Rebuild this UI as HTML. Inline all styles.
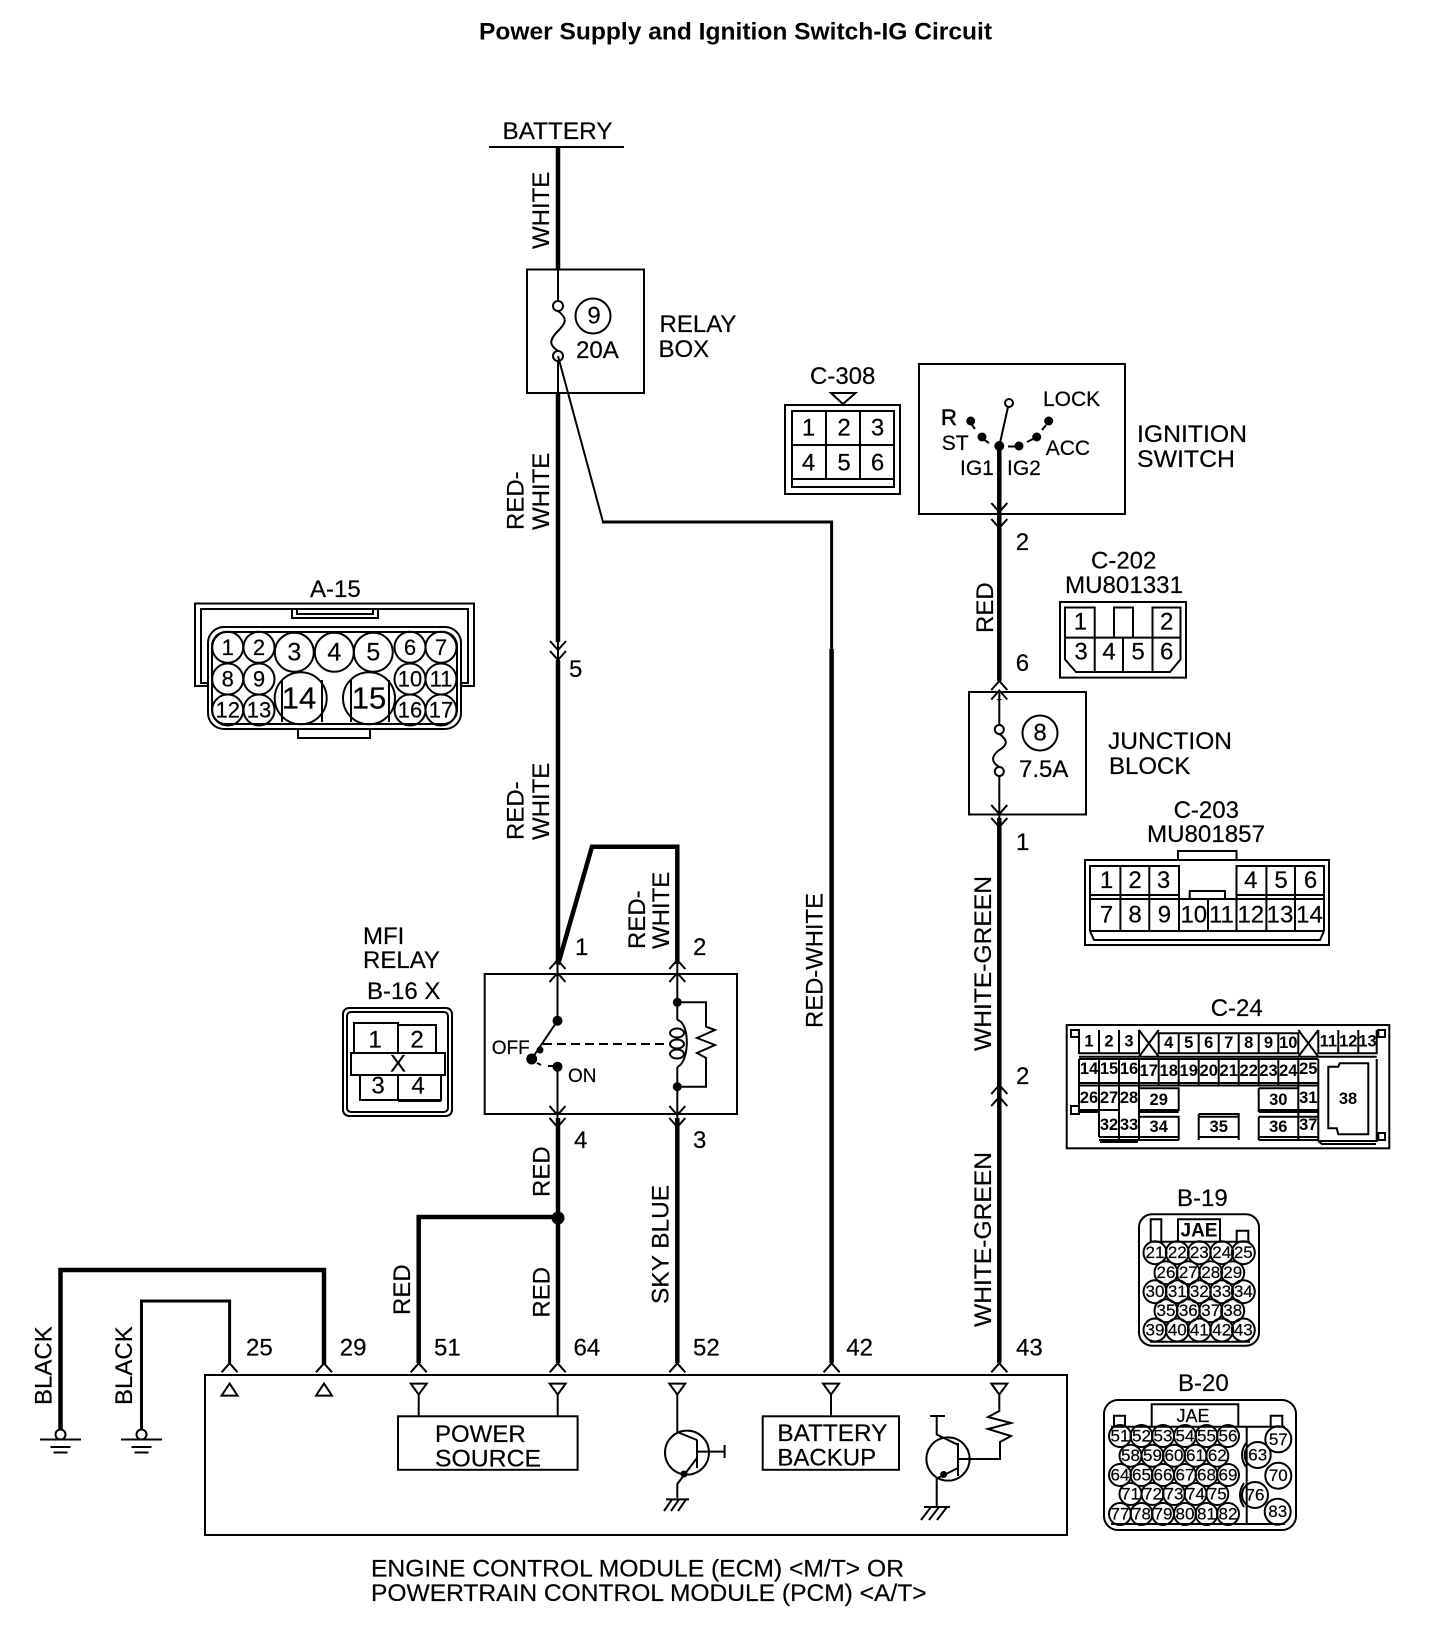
<!DOCTYPE html>
<html><head><meta charset="utf-8"><title>Power Supply and Ignition Switch-IG Circuit</title>
<style>
html,body{margin:0;padding:0;background:#fff}
svg{display:block}
text{font-family:"Liberation Sans",sans-serif;font-size:24px;fill:#000;stroke:#000;stroke-width:.2}
.c{text-anchor:middle;dominant-baseline:central}
.s{font-size:22px}.m{font-size:25px}.l{font-size:31px}
.b{font-weight:bold;font-size:16.5px;stroke:none}
.k{font-size:17px}.k2{font-size:18px}
.sw{font-size:21px}
.t{font-weight:bold;font-size:24.5px;stroke:none}
g,path,rect,circle,ellipse,line,polyline,polygon{fill:none;stroke:#000;stroke-width:2}
.th{stroke-width:4.5}.f{fill:#000;stroke:none}
.t3{stroke-width:3}.t1{stroke-width:1.5}
</style></head><body>
<svg xmlns="http://www.w3.org/2000/svg" width="1440" height="1628" viewBox="0 0 1440 1628">
<defs>
<path id="up" d="M-8,9 L0,0 L8,9" stroke-width="2.5"/>
<path id="dn" d="M-8,-9 L0,0 L8,-9" stroke-width="2.5"/>
<path id="tu" d="M0,0 L-8,12 L8,12Z"/>
<path id="td" d="M-8,0 L8,0 L0,11Z"/>
<g id="gnd"><line x1="-20.500" y1="5" x2="20.500" y2="5"/><line x1="-10" y1="12.500" x2="10" y2="12.500" stroke-width="1.500"/><line x1="-7" y1="18" x2="7" y2="18" stroke-width="1.500"/><circle cx="0" cy="0" r="5"/></g>
</defs>

<text class="t" x="479" y="39.500" textLength="513" lengthAdjust="spacingAndGlyphs">Power Supply and Ignition Switch-IG Circuit</text>

<!-- Battery and main wire -->
<text x="502.500" y="139" textLength="110" lengthAdjust="spacingAndGlyphs">BATTERY</text>
<line x1="489" y1="147" x2="624" y2="147"/>
<path class="th" d="M558,147V269.500M558,393V642M558,660V964.600M558,1118V1363"/>
<path d="M558,269.500V301M558,361V393M558,660V642"/>
<rect x="527" y="269.500" width="117" height="123.500"/>
<circle cx="558" cy="306" r="5"/><circle cx="558" cy="356" r="5"/>
<path d="M558,311C567,318 567,322 558,331C549,340 549,345 558,351"/>
<circle cx="593" cy="316" r="17.500"/><text class="c" x="594" y="316">9</text>
<text x="576" y="358">20A</text>
<text x="659.500" y="332">RELAY</text><text x="658.500" y="357">BOX</text>
<text transform="translate(549,249) rotate(-90)">WHITE</text>
<text transform="translate(523.500,530) rotate(-90)">RED-</text>
<text transform="translate(549,530) rotate(-90)">WHITE</text>
<path d="M558,356L603,522"/>
<path class="t3" d="M602,522H831.600V649"/>
<path class="th" d="M831.600,649V1363"/>
<text transform="translate(822.500,1028) rotate(-90)" textLength="135" lengthAdjust="spacingAndGlyphs">RED-WHITE</text>
<use href="#dn" x="558" y="650"/><use href="#dn" x="558" y="660"/>
<text x="569" y="677">5</text>
<text transform="translate(523.500,840) rotate(-90)">RED-</text>
<text transform="translate(549,840) rotate(-90)">WHITE</text>

<!-- A-15 -->
<text x="310" y="597">A-15</text>
<path d="M208,686H195V603.500H474V686H461" stroke-width="2.500"/>
<path d="M208,683H201V609H468V683H461"/>
<path d="M292,609V618H378V609M297,609V614H373V609"/>
<rect x="208" y="627" width="253" height="102" rx="16" stroke-width="2.500"/>
<rect x="212" y="632" width="245" height="92" rx="14" stroke-width="1.500"/>
<path d="M298,729V738H370V729" stroke-width="2.500"/>
<g class="t1" stroke-width="1.500">
<circle cx="227.700" cy="647.300" r="15.500"/><circle cx="259" cy="647.300" r="15.500"/><circle cx="294.300" cy="652.300" r="19.500"/><circle cx="334.300" cy="652.300" r="19.500"/><circle cx="373.300" cy="652.300" r="19.500"/><circle cx="410" cy="647.300" r="15.500"/><circle cx="441" cy="647.300" r="15.500"/>
<circle cx="227.700" cy="679" r="15.500"/><circle cx="259" cy="679" r="15.500"/><circle cx="410" cy="679" r="15.500"/><circle cx="441" cy="679" r="15.500"/>
<circle cx="227.700" cy="710" r="15.500"/><circle cx="259" cy="710" r="15.500"/><circle cx="410" cy="710" r="15.500"/><circle cx="441" cy="710" r="15.500"/>
<circle cx="300.700" cy="698.300" r="26"/><circle cx="369" cy="698.300" r="26"/>
<path d="M282,680V722M322,680V722M351,680V722M389,680V722"/>
</g>
<text class="c s" x="227.700" y="647.300">1</text><text class="c s" x="259" y="647.300">2</text><text class="c m" x="294.300" y="652.300">3</text><text class="c m" x="334.300" y="652.300">4</text><text class="c m" x="373.300" y="652.300">5</text><text class="c s" x="410" y="647.300">6</text><text class="c s" x="441" y="647.300">7</text>
<text class="c s" x="227.700" y="679">8</text><text class="c s" x="259" y="679">9</text><text class="c s" x="410" y="679">10</text><text class="c s" x="441" y="679">11</text>
<text class="c s" x="227.700" y="710">12</text><text class="c s" x="259" y="710">13</text><text class="c s" x="410" y="710">16</text><text class="c s" x="441" y="710">17</text>
<text class="c l" x="299" y="698">14</text><text class="c l" x="369" y="698">15</text>

<!-- C-308 -->
<text x="810" y="384">C-308</text>
<polygon points="831,393 855.500,393 843,404"/>
<rect x="785" y="405" width="115" height="89" stroke-width="2.500"/>
<rect x="792" y="411" width="102" height="76"/>
<path d="M826,411V479M860,411V479M792,445H894M792,479H894"/>
<text class="c" x="808.600" y="428">1</text><text class="c" x="844" y="428">2</text><text class="c" x="877.500" y="428">3</text>
<text class="c" x="808.600" y="463">4</text><text class="c" x="844" y="463">5</text><text class="c" x="877.500" y="463">6</text>

<!-- Ignition switch -->
<rect x="919" y="364" width="206" height="150" stroke-width="2.500"/>
<path class="th" d="M999.300,446V681M999.300,699V700M999.300,818V1363"/>
<circle cx="1009" cy="403" r="4"/>
<path d="M1008,407L999.300,446" stroke-width="2.500"/>
<circle class="f" cx="970.700" cy="421" r="4.500"/><circle class="f" cx="982" cy="437" r="4.500"/><circle class="f" cx="999.300" cy="446" r="5"/><circle class="f" cx="1019" cy="446" r="4.500"/><circle class="f" cx="1036.700" cy="437" r="4.500"/><circle class="f" cx="1048.700" cy="421" r="4.500"/>
<path d="M972,425L975,429M983,439L989,443M1008,446.500H1015M1027,442L1033,439M1042,430L1046,425"/>
<text class="sw" x="941" y="425" style="stroke-width:.6;font-size:22px">R</text>
<text class="sw" x="941.700" y="450">ST</text>
<text class="sw" x="960" y="475">IG1</text>
<text class="sw" x="1007" y="475">IG2</text>
<text class="sw" x="1045.700" y="455">ACC</text>
<text class="sw" x="1043" y="406">LOCK</text>
<text x="1137" y="442" textLength="110" lengthAdjust="spacingAndGlyphs">IGNITION</text><text x="1137" y="467" textLength="98" lengthAdjust="spacingAndGlyphs">SWITCH</text>
<use href="#dn" x="999.300" y="512"/><use href="#dn" x="999.300" y="528"/>
<text x="1015.700" y="550">2</text>

<!-- C-202 -->
<text x="1091" y="568.500">C-202</text>
<text x="1065" y="593" textLength="118" lengthAdjust="spacingAndGlyphs">MU801331</text>
<rect x="1060" y="602" width="126" height="75.600" stroke-width="3"/>
<path d="M1094.700,637.600V607.500H1065V659.400L1076,672H1170L1180.500,659.400V607.500H1152.500V637.600"/>
<path d="M1065,637.600H1180.500M1114,637.600V607.500H1133V637.600M1094.700,637.600V672M1123,637.600V672M1152.500,637.600V672"/>
<text class="c" x="1080.400" y="622">1</text><text class="c" x="1166.700" y="622">2</text>
<text class="c" x="1081" y="652">3</text><text class="c" x="1109" y="652">4</text><text class="c" x="1138" y="652">5</text><text class="c" x="1166.700" y="652">6</text>

<!-- Junction block -->
<text transform="translate(993,633) rotate(-90)">RED</text>
<text x="1015.700" y="671">6</text>
<use href="#up" x="999.300" y="681"/><use href="#up" x="999.300" y="690.500"/>
<rect x="969" y="692" width="117" height="122.500"/>
<path d="M999.300,692V725M999.300,776V818" stroke-width="2.500"/>
<circle cx="999.300" cy="729.500" r="4.500"/><circle cx="999.300" cy="771.500" r="4.500"/>
<path d="M999.300,734C1008,740 1008,745 999.300,750C991,756 991,762 999.300,767"/>
<circle cx="1040" cy="733" r="17.500"/><text class="c" x="1040" y="733">8</text>
<text x="1019" y="777">7.5A</text>
<text x="1108" y="749" textLength="124" lengthAdjust="spacingAndGlyphs">JUNCTION</text><text x="1109" y="774">BLOCK</text>
<use href="#dn" x="999.300" y="814"/><use href="#dn" x="999.300" y="827"/>
<text x="1016" y="850">1</text>
<text transform="translate(991,1051) rotate(-90)" textLength="175" lengthAdjust="spacingAndGlyphs">WHITE-GREEN</text>
<text x="1016" y="1084">2</text>
<use href="#up" x="999.300" y="1085"/><use href="#up" x="999.300" y="1097"/>
<text transform="translate(991,1327) rotate(-90)" textLength="175" lengthAdjust="spacingAndGlyphs">WHITE-GREEN</text>

<!-- C-203 -->
<text x="1173.600" y="818">C-203</text>
<text x="1147" y="842" textLength="118" lengthAdjust="spacingAndGlyphs">MU801857</text>
<rect x="1085" y="860" width="244" height="85" stroke-width="2.500"/>
<path d="M1178,860V851H1236.500V860" stroke-width="2.500"/>
<path d="M1090,931V866H1179V898.600M1236.500,898.600V866H1324V931M1120.400,866V931M1149.300,866V931M1266.400,866V931M1295,866V931M1179,898.600V931M1208,898.600V931M1236.500,898.600V931"/>
<path d="M1090,895H1179M1236.500,895H1324M1090,899H1324M1189.700,898.600V891H1225V898.600M1090,931H1324M1090,931L1094,940H1320L1324,931"/>
<text class="c" x="1106.600" y="880.500">1</text><text class="c" x="1135" y="880.500">2</text><text class="c" x="1163.500" y="880.500">3</text><text class="c" x="1250.800" y="880.500">4</text><text class="c" x="1281" y="880.500">5</text><text class="c" x="1310.500" y="880.500">6</text>
<text class="c" x="1106.600" y="915">7</text><text class="c" x="1135" y="915">8</text><text class="c" x="1164.400" y="915">9</text><text class="c" x="1193.800" y="915">10</text><text class="c" x="1221.400" y="915">11</text><text class="c" x="1250.800" y="915">12</text><text class="c" x="1280" y="915">13</text><text class="c" x="1309.500" y="915">14</text>

<!-- C-24 -->
<text x="1210.700" y="1016">C-24</text>
<rect x="1066.700" y="1025" width="322.600" height="123.300" stroke-width="2.500"/>
<path stroke-width="1.500" d="M1079,1030V1053.300H1139V1030M1099,1030V1053.300M1119,1030V1053.300
M1158.700,1033.300H1298.300V1053.300H1158.700ZM1178.700,1033.300V1053.300M1198.700,1033.300V1053.300M1218.700,1033.300V1053.300M1238.700,1033.300V1053.300M1258.700,1033.300V1053.300M1278.300,1033.300V1053.300
M1318.300,1030V1053.300H1376.700V1030M1338.300,1030V1053.300M1358.300,1030V1053.300
M1139,1030L1158.700,1056.700M1158.700,1030L1139,1056.700M1298.300,1030L1318.300,1056.700M1318.300,1030L1298.300,1056.700
M1079,1056.700H1376.700M1079,1059H1318.300M1079,1083H1318.300M1079,1085.500H1318.300
M1079,1059V1085.500M1099,1059V1137M1119,1059V1140M1139,1059V1140M1158.700,1059V1085.500M1178.700,1059V1085.500M1198.700,1059V1085.500M1218.700,1059V1085.500M1238.700,1059V1085.500M1258.700,1059V1085.500M1278.300,1059V1085.500M1298.300,1059V1140M1318.300,1059V1140
M1079,1085.500V1112H1099M1079,1110H1119M1139,1088.300H1178.700V1110H1139M1139,1112H1178.700M1258.700,1088.300H1298.300M1258.700,1088.300V1112M1258.700,1110H1318.300M1258.700,1112H1318.300
M1099,1137H1178.700M1099,1140H1178.700M1139,1116.700H1178.700V1140M1258.700,1116.700H1318.300M1258.700,1116.700V1140M1258.700,1137H1318.300M1258.700,1140H1318.300
M1198.700,1114H1238.700V1140M1198.700,1114V1140M1198.700,1137H1238.700M1198.700,1116.700H1238.700
M1376.700,1059V1141H1318.300M1100,1142H1138M1318,1141L1322,1144H1376
M1328.300,1066.700H1338.300L1339.700,1063.300H1368.300V1134.300H1338.300L1336.700,1128.300H1328.300Z
M1071,1030H1079V1037H1071ZM1071,1106H1079V1114H1071ZM1378.300,1030H1385V1037H1378.300ZM1378.300,1133H1385V1140H1378.300Z"/>
<text class="c b" x="1089" y="1041.700">1</text><text class="c b" x="1109" y="1041.700">2</text><text class="c b" x="1129" y="1041.700">3</text><text class="c b" x="1168.700" y="1043">4</text><text class="c b" x="1188.700" y="1043">5</text><text class="c b" x="1208.700" y="1043">6</text><text class="c b" x="1228.700" y="1043">7</text><text class="c b" x="1248.700" y="1043">8</text><text class="c b" x="1268.500" y="1043">9</text><text class="c b" x="1288.300" y="1043">10</text><text class="c b" x="1328.300" y="1041.700">11</text><text class="c b" x="1348.300" y="1041.700">12</text><text class="c b" x="1367.500" y="1041.700">13</text>
<text class="c b" x="1089" y="1069">14</text><text class="c b" x="1109" y="1069">15</text><text class="c b" x="1129" y="1069">16</text><text class="c b" x="1148.700" y="1071">17</text><text class="c b" x="1168.700" y="1071">18</text><text class="c b" x="1188.700" y="1071">19</text><text class="c b" x="1208.700" y="1071">20</text><text class="c b" x="1228.700" y="1071">21</text><text class="c b" x="1248.700" y="1071">22</text><text class="c b" x="1268.500" y="1071">23</text><text class="c b" x="1288.300" y="1071">24</text><text class="c b" x="1308.300" y="1069">25</text>
<text class="c b" x="1089" y="1098">26</text><text class="c b" x="1109" y="1098">27</text><text class="c b" x="1129" y="1098">28</text><text class="c b" x="1158.700" y="1100">29</text><text class="c b" x="1278.300" y="1100">30</text><text class="c b" x="1308.300" y="1098">31</text><text class="c b" x="1348" y="1099">38</text>
<text class="c b" x="1109" y="1125">32</text><text class="c b" x="1129" y="1125">33</text><text class="c b" x="1158.700" y="1127">34</text><text class="c b" x="1218.700" y="1127">35</text><text class="c b" x="1278.300" y="1127">36</text><text class="c b" x="1308.300" y="1125">37</text>

<!-- B-19 -->
<text x="1177" y="1206">B-19</text>
<rect x="1139" y="1214.300" width="120" height="131.400" rx="13" stroke-width="2.500"/>
<path d="M1150.700,1241.700V1219.300H1161.300V1241.700M1178,1241.700V1219.300H1220V1241.700M1236.700,1241.700V1230.700H1248.300V1241.700M1150,1241.700H1250M1150,1341.700H1250" stroke-width="1.800"/>
<text class="c b" style="font-size:19px" x="1199" y="1231">JAE</text>
<g stroke-width="1.500">
<circle cx="1155" cy="1252.700" r="11.500"/><circle cx="1177.300" cy="1252.700" r="11.500"/><circle cx="1199.300" cy="1252.700" r="11.500"/><circle cx="1221.700" cy="1252.700" r="11.500"/><circle cx="1243.300" cy="1252.700" r="11.500"/>
<circle cx="1166" cy="1272.700" r="11.500"/><circle cx="1188.300" cy="1272.700" r="11.500"/><circle cx="1210.700" cy="1272.700" r="11.500"/><circle cx="1232.700" cy="1272.700" r="11.500"/>
<circle cx="1155" cy="1291.700" r="11.500"/><circle cx="1177.300" cy="1291.700" r="11.500"/><circle cx="1199.300" cy="1291.700" r="11.500"/><circle cx="1221.700" cy="1291.700" r="11.500"/><circle cx="1243.300" cy="1291.700" r="11.500"/>
<circle cx="1166" cy="1310.700" r="11.500"/><circle cx="1188.300" cy="1310.700" r="11.500"/><circle cx="1210.700" cy="1310.700" r="11.500"/><circle cx="1232.700" cy="1310.700" r="11.500"/>
<circle cx="1155" cy="1330" r="11.500"/><circle cx="1177.300" cy="1330" r="11.500"/><circle cx="1199.300" cy="1330" r="11.500"/><circle cx="1221.700" cy="1330" r="11.500"/><circle cx="1243.300" cy="1330" r="11.500"/>
</g>
<text class="c k" x="1155" y="1252.700">21</text><text class="c k" x="1177.300" y="1252.700">22</text><text class="c k" x="1199.300" y="1252.700">23</text><text class="c k" x="1221.700" y="1252.700">24</text><text class="c k" x="1243.300" y="1252.700">25</text>
<text class="c k" x="1166" y="1272.700">26</text><text class="c k" x="1188.300" y="1272.700">27</text><text class="c k" x="1210.700" y="1272.700">28</text><text class="c k" x="1232.700" y="1272.700">29</text>
<text class="c k" x="1155" y="1291.700">30</text><text class="c k" x="1177.300" y="1291.700">31</text><text class="c k" x="1199.300" y="1291.700">32</text><text class="c k" x="1221.700" y="1291.700">33</text><text class="c k" x="1243.300" y="1291.700">34</text>
<text class="c k" x="1166" y="1310.700">35</text><text class="c k" x="1188.300" y="1310.700">36</text><text class="c k" x="1210.700" y="1310.700">37</text><text class="c k" x="1232.700" y="1310.700">38</text>
<text class="c k" x="1155" y="1330">39</text><text class="c k" x="1177.300" y="1330">40</text><text class="c k" x="1199.300" y="1330">41</text><text class="c k" x="1221.700" y="1330">42</text><text class="c k" x="1243.300" y="1330">43</text>

<!-- B-20 -->
<text x="1178" y="1391">B-20</text>
<rect x="1104" y="1400" width="192" height="130" rx="14" stroke-width="2.500"/>
<path d="M1114,1426.700V1415.700H1125V1426.700M1151.700,1426.700V1404.300H1238.300V1426.700M1270.700,1426.700V1415.700H1282.300V1426.700M1111,1426.700H1285M1111,1524H1285M1246.700,1426.700V1524" stroke-width="1.800"/>
<text class="c k2" x="1193" y="1416">JAE</text>
<path d="M1246,1443Q1238,1455 1246,1467M1244,1483Q1236,1495 1244,1507" stroke-width="1.500"/>
<g stroke-width="1.500">
<circle cx="1120" cy="1436" r="11"/><circle cx="1141.500" cy="1436" r="11"/><circle cx="1163" cy="1436" r="11"/><circle cx="1185" cy="1436" r="11"/><circle cx="1206.500" cy="1436" r="11"/><circle cx="1228" cy="1436" r="11"/>
<circle cx="1130.500" cy="1455.700" r="11"/><circle cx="1152.500" cy="1455.700" r="11"/><circle cx="1174" cy="1455.700" r="11"/><circle cx="1195.500" cy="1455.700" r="11"/><circle cx="1217.300" cy="1455.700" r="11"/>
<circle cx="1120" cy="1475" r="11"/><circle cx="1141.500" cy="1475" r="11"/><circle cx="1163" cy="1475" r="11"/><circle cx="1185" cy="1475" r="11"/><circle cx="1206.500" cy="1475" r="11"/><circle cx="1228" cy="1475" r="11"/>
<circle cx="1130.500" cy="1494" r="11"/><circle cx="1152.500" cy="1494" r="11"/><circle cx="1174" cy="1494" r="11"/><circle cx="1195.500" cy="1494" r="11"/><circle cx="1217.300" cy="1494" r="11"/>
<circle cx="1120" cy="1514" r="11"/><circle cx="1141.500" cy="1514" r="11"/><circle cx="1163" cy="1514" r="11"/><circle cx="1185" cy="1514" r="11"/><circle cx="1206.500" cy="1514" r="11"/><circle cx="1228" cy="1514" r="11"/>
<circle cx="1278.300" cy="1439.300" r="13"/><circle cx="1257.700" cy="1455" r="13"/><circle cx="1278.300" cy="1475.700" r="13"/><circle cx="1255" cy="1495" r="13"/><circle cx="1277.700" cy="1511.700" r="13"/>
</g>
<text class="c k" x="1120" y="1436">51</text><text class="c k" x="1141.500" y="1436">52</text><text class="c k" x="1163" y="1436">53</text><text class="c k" x="1185" y="1436">54</text><text class="c k" x="1206.500" y="1436">55</text><text class="c k" x="1228" y="1436">56</text>
<text class="c k" x="1130.500" y="1455.700">58</text><text class="c k" x="1152.500" y="1455.700">59</text><text class="c k" x="1174" y="1455.700">60</text><text class="c k" x="1195.500" y="1455.700">61</text><text class="c k" x="1217.300" y="1455.700">62</text>
<text class="c k" x="1120" y="1475">64</text><text class="c k" x="1141.500" y="1475">65</text><text class="c k" x="1163" y="1475">66</text><text class="c k" x="1185" y="1475">67</text><text class="c k" x="1206.500" y="1475">68</text><text class="c k" x="1228" y="1475">69</text>
<text class="c k" x="1130.500" y="1494">71</text><text class="c k" x="1152.500" y="1494">72</text><text class="c k" x="1174" y="1494">73</text><text class="c k" x="1195.500" y="1494">74</text><text class="c k" x="1217.300" y="1494">75</text>
<text class="c k" x="1120" y="1514">77</text><text class="c k" x="1141.500" y="1514">78</text><text class="c k" x="1163" y="1514">79</text><text class="c k" x="1185" y="1514">80</text><text class="c k" x="1206.500" y="1514">81</text><text class="c k" x="1228" y="1514">82</text>
<text class="c k" x="1278.300" y="1439.300">57</text><text class="c k" x="1257.700" y="1455">63</text><text class="c k" x="1278.300" y="1475.700">70</text><text class="c k" x="1255" y="1495">76</text><text class="c k" x="1277.700" y="1511.700">83</text>

<!-- MFI relay connector -->
<text x="363" y="944">MFI</text><text x="363" y="968">RELAY</text>
<text x="367" y="999">B-16 X</text>
<rect x="343" y="1008" width="109" height="108" rx="6" stroke-width="2"/>
<rect x="347" y="1012" width="101" height="100" rx="4" stroke-width="1.500"/>
<path d="M354,1053V1023H398V1053" stroke-width="3"/>
<path d="M398,1025H436V1053M360,1075V1100H398M441,1075V1100H398M398,1075V1100" stroke-width="1.500"/>
<path d="M398,1101H441" stroke-width="3.500"/>
<rect x="351" y="1053" width="94" height="22" stroke-width="1.500"/>
<text class="c" x="375" y="1040">1</text><text class="c" x="417" y="1040">2</text><text class="c" x="378" y="1086">3</text><text class="c" x="418" y="1086">4</text>
<text class="c" x="398" y="1064">X</text>

<!-- MFI relay -->
<path class="th" d="M558,964.600L592,846.700H677.300V964"/>
<text transform="translate(645,949) rotate(-90)">RED-</text>
<text transform="translate(669,949) rotate(-90)">WHITE</text>
<text x="575" y="955">1</text><text x="693" y="955">2</text>
<rect x="484.700" y="974" width="252.300" height="140" stroke-width="2.500"/>
<use href="#up" x="557.500" y="960"/><use href="#up" x="557.500" y="973"/><use href="#up" x="677.300" y="960"/><use href="#up" x="677.300" y="973"/>
<path d="M557.500,960V1020.700" stroke-width="2.500"/>
<circle class="f" cx="557.500" cy="1020.700" r="5"/>
<path d="M557.500,1020.700L531.700,1059" stroke-width="2.500"/>
<circle class="f" cx="531.700" cy="1059" r="5.500"/><circle class="f" cx="540" cy="1050" r="3.500"/>
<path d="M543,1044H668" stroke-dasharray="9 5"/>
<circle class="f" cx="557.500" cy="1066.700" r="5"/>
<path d="M548,1066H553M537,1063L541,1065M557.500,1067V1118" stroke-width="2.500"/>
<path d="M677.300,960V1020M677.300,1067V1118" stroke-width="2.500"/>
<circle class="f" cx="677.300" cy="1002.300" r="4.500"/><circle class="f" cx="677.300" cy="1086.700" r="4.500"/>
<path d="M677.300,1020C690,1022 690,1062 677.300,1067" stroke-width="2"/>
<ellipse cx="677" cy="1033" rx="7" ry="4.500"/><ellipse cx="677" cy="1044" rx="7" ry="4.500"/><ellipse cx="677" cy="1054" rx="7" ry="4.500"/>
<path d="M677.300,1002.300H706V1026.700L715,1030L697,1038L715,1045L697,1053L706,1058V1086.700H677.300"/>
<text x="491.700" y="1054" style="font-size:19px">OFF</text>
<text x="568" y="1082" style="font-size:19px">ON</text>
<use href="#dn" x="557.500" y="1115"/><use href="#dn" x="557.500" y="1127"/><use href="#dn" x="677.300" y="1115"/><use href="#dn" x="677.300" y="1127"/>
<text x="574" y="1148">4</text><text x="693" y="1148">3</text>
<text transform="translate(549.600,1197) rotate(-90)">RED</text>
<path class="th" d="M677.300,1118V1363"/>
<circle class="f" cx="558" cy="1218" r="6.500"/>
<path class="th" d="M558,1217H418.700V1363"/>
<text transform="translate(410,1315) rotate(-90)">RED</text>
<text transform="translate(549.600,1317.600) rotate(-90)">RED</text>
<text transform="translate(668.500,1304) rotate(-90)" textLength="119" lengthAdjust="spacingAndGlyphs">SKY BLUE</text>

<!-- Black wires and grounds -->
<path class="th" d="M60.500,1430V1270H324V1364"/>
<path class="t3" d="M141.500,1430V1301H229.600V1364"/>
<text transform="translate(51.400,1405) rotate(-90)">BLACK</text>
<text transform="translate(132.200,1405) rotate(-90)">BLACK</text>
<use href="#gnd" x="60.500" y="1434.500"/><use href="#gnd" x="141.500" y="1434.500"/>

<!-- Pin labels -->
<text x="246" y="1355.500">25</text><text x="339.800" y="1355.500">29</text><text x="434" y="1355.500">51</text><text x="573.500" y="1355.500">64</text><text x="693" y="1355.500">52</text><text x="846.300" y="1355.500">42</text><text x="1016" y="1355.500">43</text>
<use href="#up" x="229.600" y="1363.300"/><use href="#up" x="324" y="1363.300"/><use href="#up" x="418.700" y="1363.300"/><use href="#up" x="557.700" y="1363.300"/><use href="#up" x="677.300" y="1363.300"/><use href="#up" x="831.600" y="1363.300"/><use href="#up" x="999.300" y="1363.300"/>

<!-- ECM -->
<rect x="205" y="1375" width="862" height="160" stroke-width="2.700"/>
<use href="#tu" x="229.600" y="1383.600"/><use href="#tu" x="324" y="1383.600"/>
<use href="#td" x="418.700" y="1383.600"/><use href="#td" x="557.700" y="1383.600"/><use href="#td" x="677.300" y="1383.600"/><use href="#td" x="831" y="1383.600"/><use href="#td" x="999.300" y="1383.600"/>
<path d="M418.700,1394.500V1416.300M557.700,1394.500V1416.300M831,1394.500V1416.300"/>
<rect x="398" y="1416.300" width="179.600" height="53.500" stroke-width="2.500"/>
<text x="435" y="1442">POWER</text><text x="435" y="1466.600" textLength="106" lengthAdjust="spacingAndGlyphs">SOURCE</text>
<rect x="762.700" y="1416.300" width="136.300" height="53.500" stroke-width="3"/>
<text x="777.400" y="1441" textLength="110" lengthAdjust="spacingAndGlyphs">BATTERY</text><text x="777.400" y="1465.600">BACKUP</text>

<!-- Transistor 52 -->
<path d="M677.300,1394.500V1432L697,1440M697,1439.700V1468M697,1458L677.300,1484V1498M697,1451.600H724.600M724.600,1445V1458"/>
<circle cx="687" cy="1452.600" r="22"/>
<circle class="f" cx="684" cy="1474" r="3.500"/>
<path d="M666,1499.400H689M672,1499.400L664,1511M679,1499.400L671,1511M686,1499.400L678,1511"/>

<!-- Transistor 43 -->
<path d="M930,1416H945M936.700,1416V1434.500L958,1444.800M958,1443V1476M958,1468L936.700,1478.600V1507M958,1459H1000V1442L1011,1436L988,1429L1011,1423L988,1417L999.300,1411V1394.500"/>
<circle cx="948" cy="1459" r="21.600"/>
<circle class="f" cx="943.600" cy="1474.500" r="3.500"/>
<path d="M924,1507H950M931,1507L921,1520M939,1507L929,1520M947,1507L937,1520"/>

<text x="371" y="1576.500" textLength="533" lengthAdjust="spacingAndGlyphs">ENGINE CONTROL MODULE (ECM) &lt;M/T&gt; OR</text>
<text x="371" y="1601" textLength="555.600" lengthAdjust="spacingAndGlyphs">POWERTRAIN CONTROL MODULE (PCM) &lt;A/T&gt;</text>
</svg>
</body></html>
